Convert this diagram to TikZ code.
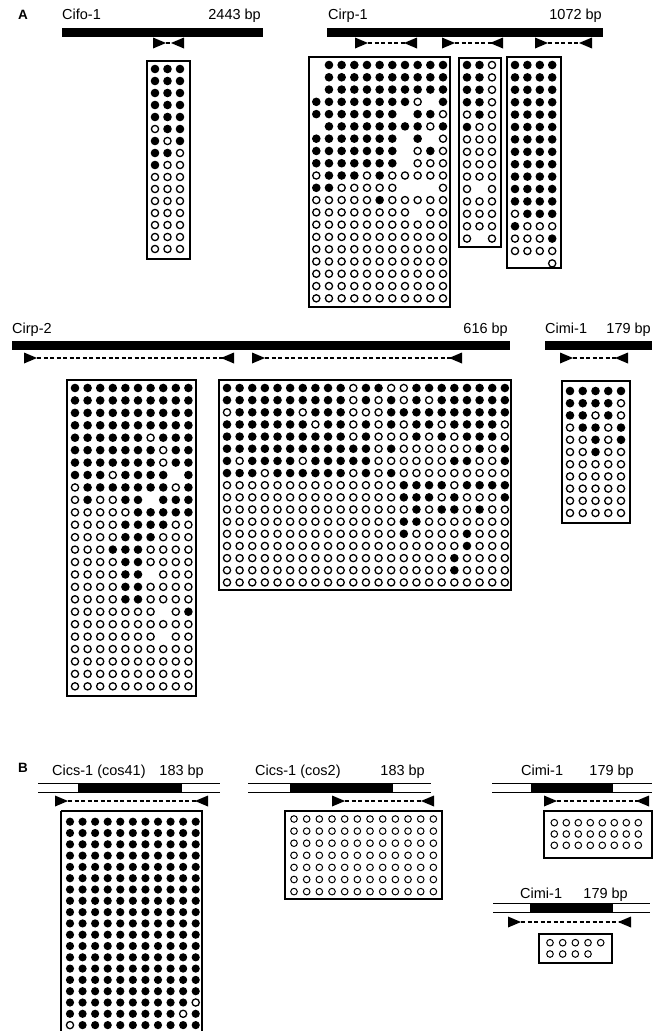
\documentclass[tikz,border=0pt]{standalone}
\usepackage{fontspec}
\setmainfont{Liberation Sans}
\newcount\dc
\def\DotOne#1{%
  \if#11\fill ({\mx+\the\dc*\mdx},{\my+\r*\mdy}) circle[radius=\frad pt];\fi
  \if#10\draw[line width=\olw pt] ({\mx+\the\dc*\mdx},{\my+\r*\mdy}) circle[radius=\orad pt];\fi}
\def\DotParse#1{\ifx#1\relax\else\DotOne#1\advance\dc by 1 \expandafter\DotParse\fi}
\newcommand\Mat[5]{\def\mx{#1}\def\my{#2}\def\mdx{#3}\def\mdy{#4}%
  \foreach \rw [count=\r from 0] in {#5}{\dc=0 \expandafter\DotParse\rw\relax}}
\newcommand\Primer[4]{%
  \coordinate (#1a) at (#2,#4);
  \coordinate (#1b) at (#3,#4);
  \draw[primerline] (#1a) -- (#1b);
  \fill (#1a) ++(0,-5.5) -- ++(13,5.5) -- ++(-13,5.5) -- cycle;
  \fill (#1b) ++(0,-5.5) -- ++(-13,5.5) -- ++(13,5.5) -- cycle;}
\newcommand\Gene[6]{%
  \draw[thinline] (#1,#5) -- (#2,#5);
  \draw[thinline] (#1,#6) -- (#2,#6);
  \fill (#3,#5) rectangle (#4,#6);}
\tikzset{
  lbl/.style={inner sep=0pt, font=\fontsize{14.5}{16}\selectfont},
  panel/.style={inner sep=0pt, font=\fontsize{13.5}{15}\selectfont\bfseries},
  mbox/.style={draw, line width=1.2pt},
  primerline/.style={line width=1.2pt, dash pattern=on 4pt off 2.5pt},
  thinline/.style={line width=1pt},
}
\begin{document}
\begin{tikzpicture}[x=1pt,y=-1pt]
\useasboundingbox (0,0) rectangle (658,1031);
\fill[white] (0,0) rectangle (658,1031);
\def\frad{4.3}\def\orad{3.6}\def\olw{1.3}
% ---------------- Panel A
\node[panel, anchor=base west] (pA) at (18,19) {A};
% Cifo-1
\node[lbl, anchor=base west] (t1) at (62,19.5) {Cifo-1};
\node[lbl, anchor=base east] (t1b) at (261,19.5) {2443 bp};
\fill (62,28) rectangle (263,37);
\Primer{c1}{153}{184}{43}
\draw[mbox] (147,61) rectangle (190,259);
\Mat{155}{69}{12.5}{12}{111,111,111,111,111,011,101,110,100,000,000,000,000,000,000,000}
% Cirp-1
\node[lbl, anchor=base west] (t2) at (328,19.5) {Cirp-1};
\node[lbl, anchor=base east] (t2b) at (602,19.5) {1072 bp};
\fill (327,28) rectangle (603,37);
\Primer{r1}{355}{417}{43}
\Primer{r2}{442}{503}{43}
\Primer{r3}{535}{592}{43}
\draw[mbox] (309,57) rectangle (450,307);
\Mat{316.3}{65}{12.67}{12.28}{-1111111111,-1111111111,-1111111111,111111110-1,1111111-110,-1111111101,1111111-1-0,1111111-010,1111111-000,01110100000,1100000---0,00000100000,00000000-00,00000000000,00000000000,00000000000,00000000000,00000000000,00000000000,00000000000}
\draw[mbox] (459,58) rectangle (501,247);
\Mat{467}{65}{12.5}{12.4}{110,110,110,110,010,100,000,000,000,000,0-0,000,000,000,0-0}
\draw[mbox] (507,57) rectangle (561,268);
\Mat{515}{65}{12.4}{12.4}{1111,1111,1111,1111,1111,1111,1111,1111,1111,1111,1111,1111,0111,1000,0001,0000,---0}
% Cirp-2
\node[lbl, anchor=base west] (t3) at (12,333) {Cirp-2};
\node[lbl, anchor=base east] (t3b) at (508,333) {616 bp};
\fill (12,341) rectangle (510,350);
\Primer{s1}{24}{234}{358}
\Primer{s2}{252}{462}{358}
\draw[mbox] (67,380) rectangle (196,696);
\Mat{75}{388}{12.6}{12.43}{1111111111,1111111111,1111111111,1111111111,1111110111,1111111011,1111111011,11101111-1,0111111101,010011-111,0000011111,0000111100,0000111000,0001110000,0000110000,000011-000,0000110000,0000110000,0000000-01,0000000000,0000000-00,0000000000,0000000000,0000000000,0000000000}
\draw[mbox] (219,380) rectangle (511,590);
\Mat{227}{388}{12.63}{12.15}{11111111110110011111111,11111111110101010111111,01111101110001111111111,11111110110101011011110,11111111110100010101110,11111111111101000000101,10111101111100000011001,11101111110101000000000,00000000000000111101111,00000000000000111010001,00000000000000010110100,00000000000000110000000,00000000000000100001000,00000000000000000001000,00000000000000000010000,00000000000000000010000,00000000000000000000000}
% Cimi-1 (A)
\node[lbl, anchor=base west] (t4) at (545,333) {Cimi-1};
\node[lbl, anchor=base east] (t4b) at (651,333) {179 bp};
\fill (545,341) rectangle (652,350);
\Primer{m1}{560}{628}{358}
\draw[mbox] (562,381) rectangle (630,523);
\Mat{570}{391}{12.75}{12.2}{11111,11110,11010,01101,00101,00100,00000,00000,00000,00000,00000}
% ---------------- Panel B
\node[panel, anchor=base west] (pB) at (18,772) {B};
\node[lbl, anchor=base west] (u1) at (52,775.5) {Cics-1 (cos41)};
\node[lbl, anchor=base east] (u1b) at (204,775.5) {183 bp};
\Gene{38}{220}{78}{182}{783}{792.5}
\Primer{b1}{55}{208}{801}
\draw[mbox] (61,811) -- (61,1035) (202,1035) -- (202,811) -- (61,811);
\def\frad{4.1}
\Mat{70}{821.7}{12.57}{11.3}{11111111111,11111111111,11111111111,11111111111,11111111111,11111111111,11111111111,11111111111,11111111111,11111111111,11111111111,11111111111,11111111111,11111111111,11111111111,11111111111,11111111110,11111111101,01111111111}
\node[lbl, anchor=base west] (u2) at (255,775.5) {Cics-1 (cos2)};
\node[lbl, anchor=base east] (u2b) at (425,775.5) {183 bp};
\Gene{248}{431}{290}{393}{783}{792.5}
\Primer{b2}{332}{434}{801}
\def\orad{3.3}\def\olw{1.0}
\draw[mbox] (285,811) rectangle (442,899);
\Mat{294}{819}{12.67}{12.1}{000000000000,000000000000,000000000000,000000000000,000000000000,000000000000,000000000000}
\node[lbl, anchor=base west] (u3) at (521,775.5) {Cimi-1};
\node[lbl, anchor=base east] (u3b) at (634,775.5) {179 bp};
\Gene{492}{652}{531}{613}{783}{792.5}
\Primer{b3}{544}{649}{801}
\draw[mbox] (544,811) rectangle (652,858);
\Mat{554.3}{822.7}{12}{11.3}{00000000,00000000,00000000}
\node[lbl, anchor=base west] (u4) at (520,898) {Cimi-1};
\node[lbl, anchor=base east] (u4b) at (628,898) {179 bp};
\Gene{493}{650}{530}{613}{903}{912}
\Primer{b4}{508}{631}{922}
\draw[mbox] (539,934) rectangle (612,963);
\Mat{550}{942.7}{12.67}{11.3}{00000,0000}
\end{tikzpicture}
\end{document}
